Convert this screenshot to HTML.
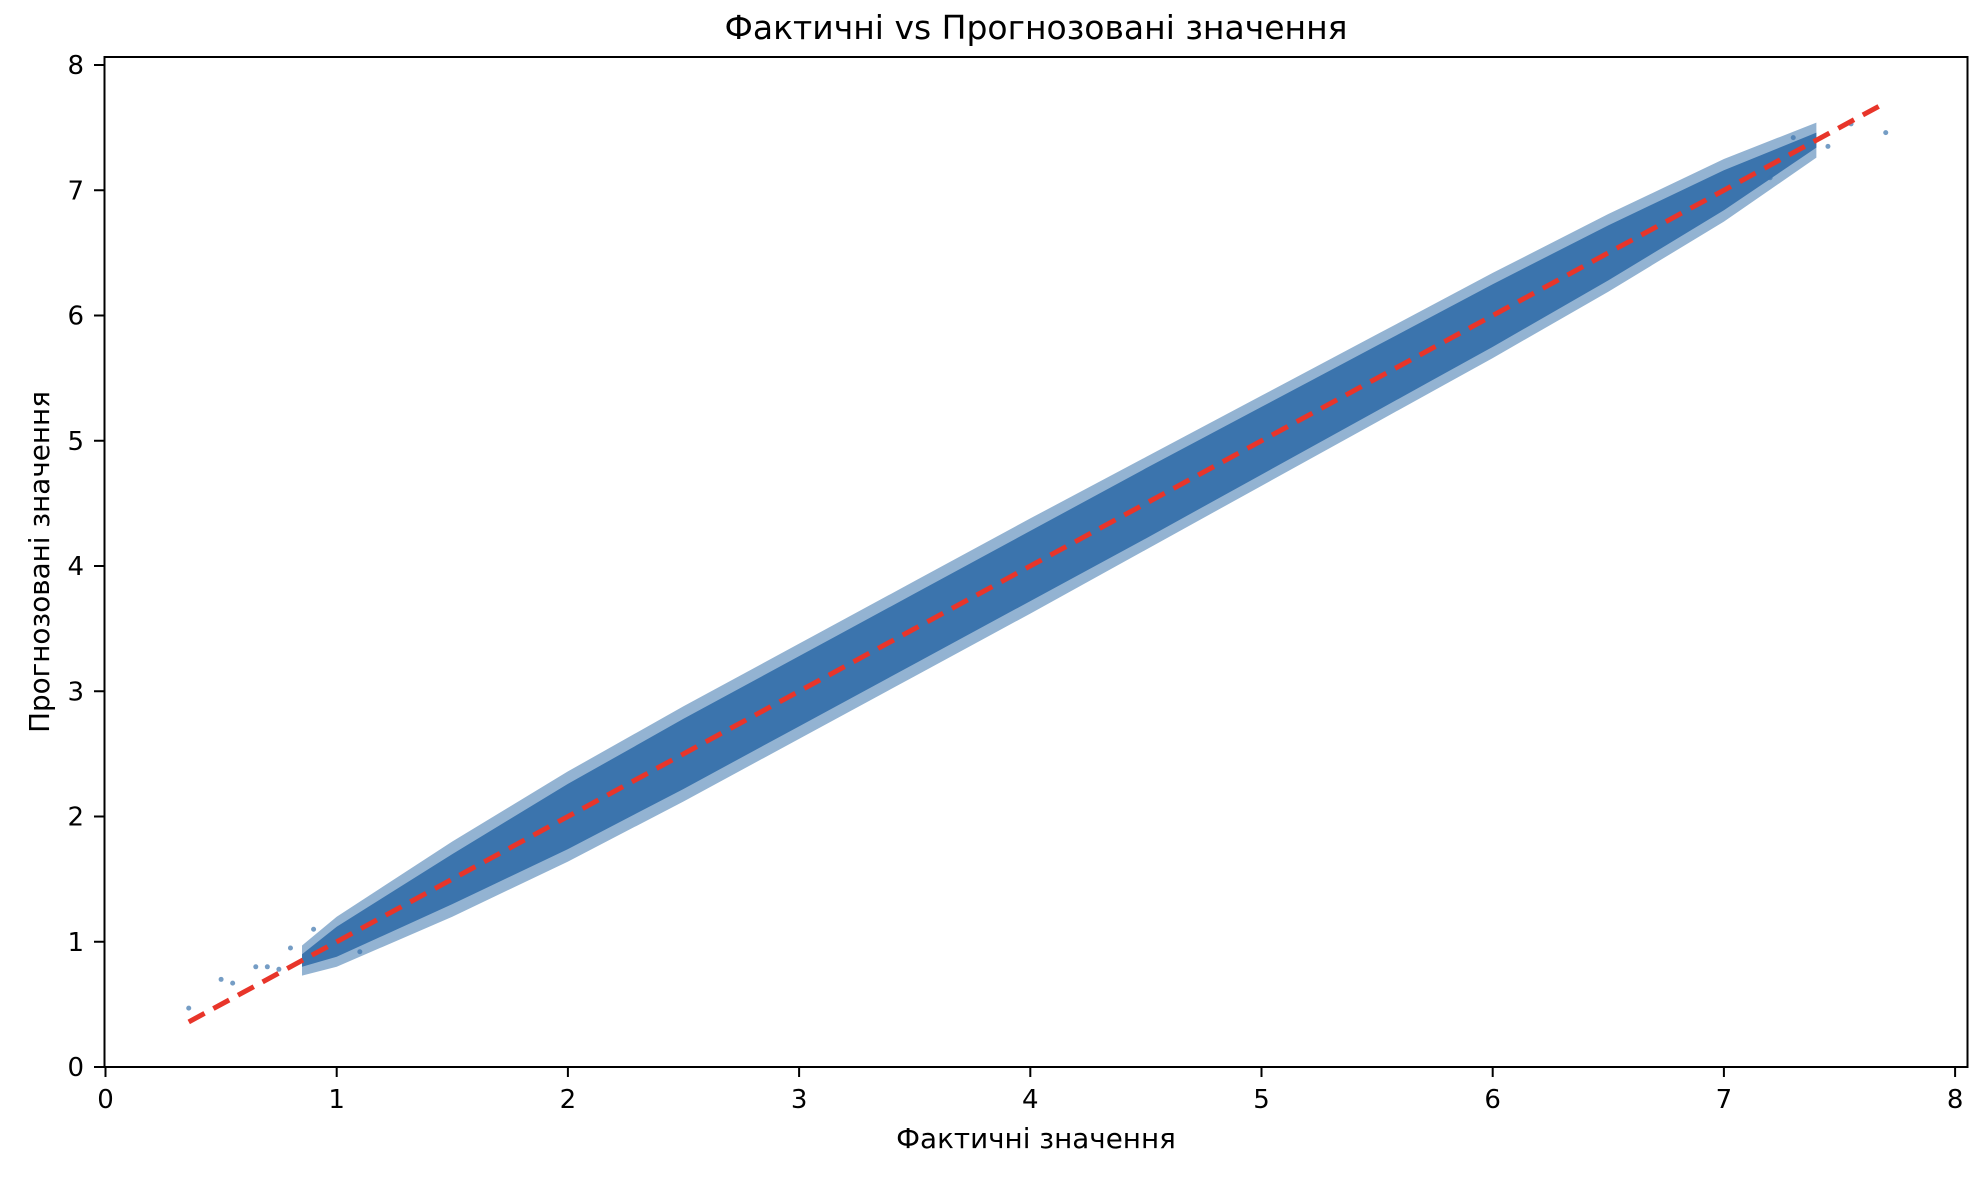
<!DOCTYPE html>
<html><head><meta charset="utf-8"><style>
body{margin:0;background:#fff}
svg text{font-family:"DejaVu Sans","Liberation Sans",sans-serif;fill:#000}
</style></head><body>
<svg id="chart" width="1982" height="1174" xmlns="http://www.w3.org/2000/svg">
<text x="1036" y="39" font-size="33" text-anchor="middle">Фактичні vs Прогнозовані значення</text>
<g id="plot"></g>
<rect x="104.5" y="57" width="1863" height="1010" fill="none" stroke="#000" stroke-width="2"/>
<g id="xticks"></g>
<g id="yticks"></g>
<text x="1036" y="1148" font-size="27.8" text-anchor="middle">Фактичні значення</text>
<text x="49" y="562" font-size="27.8" text-anchor="middle" transform="rotate(-90 49 562)">Прогнозовані значення</text>
</svg>
<script>
const tickValues=[0,1,2,3,4,5,6,7,8];
const bandX=[0.85,1.0,1.5,2.0,2.5,3.0,3.5,4.0,4.5,5.0,5.5,6.0,6.5,7.0,7.4];
const bandHalf=[0.05,0.12,0.2,0.26,0.28,0.28,0.28,0.28,0.28,0.27,0.26,0.25,0.22,0.16,0.06];
const haloHalf=[0.12,0.2,0.3,0.36,0.38,0.38,0.38,0.38,0.37,0.36,0.35,0.34,0.31,0.25,0.14];
const outX=[0.36,0.5,0.55,0.65,0.7,0.75,0.8,0.9,1.1,7.55,7.7,7.45,7.3,7.2];
const outY=[0.47,0.7,0.67,0.8,0.8,0.78,0.95,1.1,0.92,7.53,7.46,7.35,7.42,7.1];
const lineStart=0.36, lineEnd=7.7;
const X=v=>105.5+v*231.2, Y=v=>1067-v*125.25;
const NS='http://www.w3.org/2000/svg';
const plot=document.getElementById('plot');
function poly(half,fill,op,name){
  let pts=[];
  for(let i=0;i<bandX.length;i++)pts.push(X(bandX[i])+','+Y(bandX[i]+half[i]));
  for(let i=bandX.length-1;i>=0;i--)pts.push(X(bandX[i])+','+Y(bandX[i]-half[i]));
  const p=document.createElementNS(NS,'polygon');
  p.setAttribute('points',pts.join(' '));p.setAttribute('fill',fill);p.setAttribute('opacity',op);
  p.setAttribute('stroke-linejoin','round');
  
  
  plot.appendChild(p);
}
poly(haloHalf,'#3b74ad',0.55,'scatter-halo');
poly(bandHalf,'#3b74ad',1,'scatter-band');
for(let i=0;i<outX.length;i++){
  const c=document.createElementNS(NS,'circle');
  c.setAttribute('cx',X(outX[i]));c.setAttribute('cy',Y(outY[i]));c.setAttribute('r',2.5);
  c.setAttribute('fill','#3b74ad');c.setAttribute('opacity',0.7);
  
  
  plot.appendChild(c);
}
const ln=document.createElementNS(NS,'line');
ln.setAttribute('x1',X(lineStart));ln.setAttribute('y1',Y(lineStart));
ln.setAttribute('x2',X(lineEnd));ln.setAttribute('y2',Y(lineEnd));
ln.setAttribute('stroke','#e8352a');ln.setAttribute('stroke-width',5);ln.setAttribute('stroke-dasharray','18 10');


plot.appendChild(ln);
const xg=document.getElementById('xticks'),yg=document.getElementById('yticks');
tickValues.forEach(v=>{
  const t=document.createElementNS(NS,'line');
  t.setAttribute('x1',X(v));t.setAttribute('x2',X(v));t.setAttribute('y1',1067);t.setAttribute('y2',1077);t.setAttribute('stroke','#000');t.setAttribute('stroke-width',2);
  
  
  xg.appendChild(t);
  const l=document.createElementNS(NS,'text');
  l.setAttribute('x',X(v));l.setAttribute('y',1108);l.setAttribute('font-size',26);l.setAttribute('text-anchor','middle');l.textContent=v;
  
  
  xg.appendChild(l);
  const u=document.createElementNS(NS,'line');
  u.setAttribute('x1',94);u.setAttribute('x2',104);u.setAttribute('y1',Y(v));u.setAttribute('y2',Y(v));u.setAttribute('stroke','#000');u.setAttribute('stroke-width',2);
  
  
  yg.appendChild(u);
  const m=document.createElementNS(NS,'text');
  m.setAttribute('x',84);m.setAttribute('y',Y(v)+9);m.setAttribute('font-size',26);m.setAttribute('text-anchor','end');m.textContent=v;
  
  
  yg.appendChild(m);
});
</script>
</body></html>
